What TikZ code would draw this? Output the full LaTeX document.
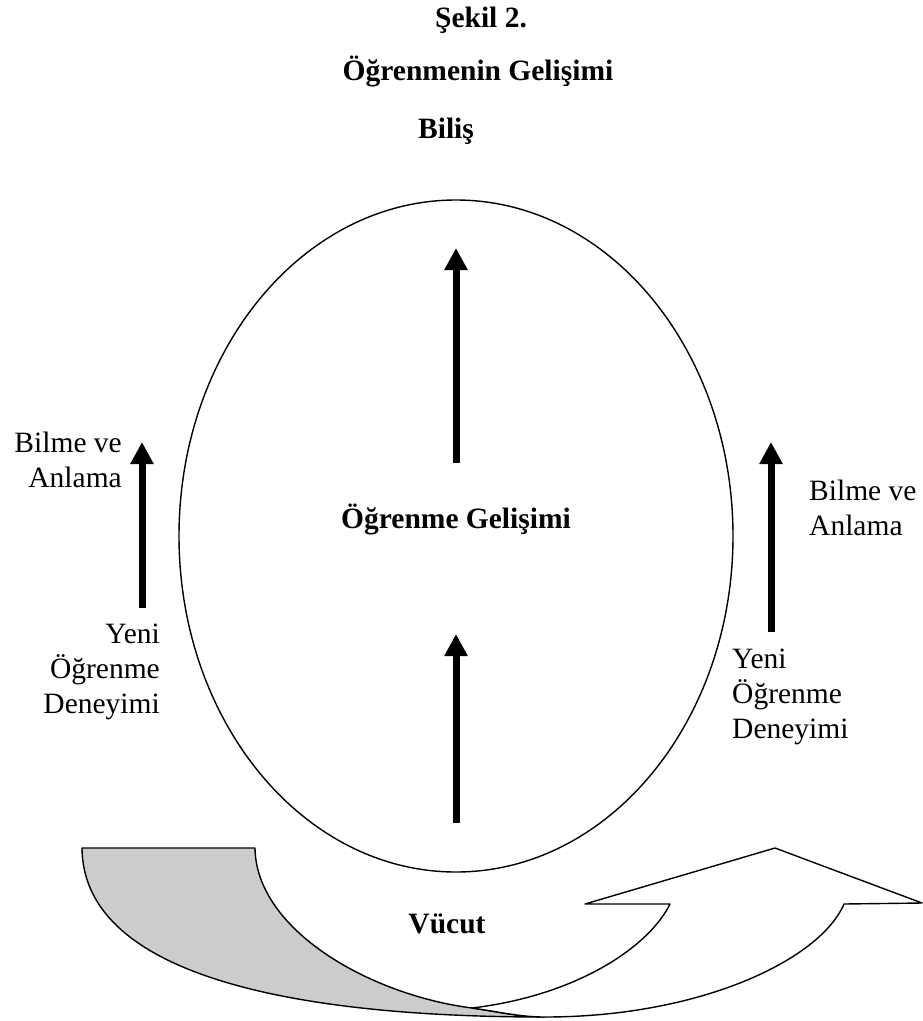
\documentclass[tikz,border=0pt]{standalone}
\usepackage{fontspec}
\setmainfont{Liberation Serif}
\usetikzlibrary{arrows.meta}
\definecolor{tailgray}{HTML}{CCCCCC}
\begin{document}
\begin{tikzpicture}[x=1pt,y=-1pt,
  lbl/.style={inner sep=0pt, font=\fontsize{29.5}{35}\selectfont},
  blbl/.style={inner sep=0pt, font=\fontsize{29.5}{35}\selectfont\bfseries},
  bigarrow/.style={line width=7pt, -{Triangle[width=22pt,length=22pt]}},
  outline/.style={line width=1.4pt, line join=round}]
\useasboundingbox (0,0) rectangle (922,1021);

% titles
\node[blbl, anchor=base] (title1) at (481,27) {Şekil 2.};
\node[blbl, anchor=base] (title2) at (478,80) {Öğrenmenin Gelişimi};
\node[blbl, anchor=base] (bilis) at (446,138) {Biliş};

% ellipse
\draw[outline] (456,536) ellipse [x radius=277, y radius=336];
\node[blbl, anchor=base] (center) at (456,528) {Öğrenme Gelişimi};

% inner arrows
\coordinate (u1) at (456,463);
\coordinate (u2) at (456,248);
\coordinate (d1) at (456,823);
\coordinate (d2) at (456,634);
\draw[bigarrow] (u1) -- (u2);
\draw[bigarrow] (d1) -- (d2);

% side arrows
\coordinate (l1) at (142,608);
\coordinate (l2) at (142,442);
\coordinate (r1) at (771,632);
\coordinate (r2) at (771,442);
\draw[bigarrow] (l1) -- (l2);
\draw[bigarrow] (r1) -- (r2);

% side labels
\node[lbl, anchor=base east] (lbm) at (122,452) {\begin{tabular}[t]{@{}r@{}}Bilme ve\\Anlama\end{tabular}};
\node[lbl, anchor=base east] (lyo) at (160,643) {\begin{tabular}[t]{@{}r@{}}Yeni\\Öğrenme\\Deneyimi\end{tabular}};
\node[lbl, anchor=base west] (rbm) at (809,500) {\begin{tabular}[t]{@{}l@{}}Bilme ve\\Anlama\end{tabular}};
\node[lbl, anchor=base west] (ryo) at (732,668) {\begin{tabular}[t]{@{}l@{}}Yeni\\Öğrenme\\Deneyimi\end{tabular}};

% curved body arrow
\coordinate (gTL) at (82,848);
\coordinate (gTR) at (255,848);
\coordinate (X) at (472,1008);
\coordinate (B) at (545,1017);
\coordinate (wIn) at (670,904);
\coordinate (wL) at (585,904);
\coordinate (tip) at (775,848);
\coordinate (wR) at (922,903);
\coordinate (wOut) at (844,904);

\filldraw[outline, fill=tailgray] (gTL) -- (gTR)
  .. controls (256,930) and (370,995) .. (X)
  .. controls (500,1012) and (520,1017) .. (B)
  .. controls (270,1017) and (83,968) .. cycle;
\filldraw[outline, fill=white] (X)
  .. controls (580,995) and (650,945) .. (wIn)
  -- (wL) -- (tip) -- (wR) -- (wOut)
  .. controls (820,960) and (700,1017) .. (B)
  .. controls (520,1017) and (500,1012) .. cycle;

\node[blbl, anchor=base] (vucut) at (447,933) {Vücut};
\end{tikzpicture}
\end{document}
